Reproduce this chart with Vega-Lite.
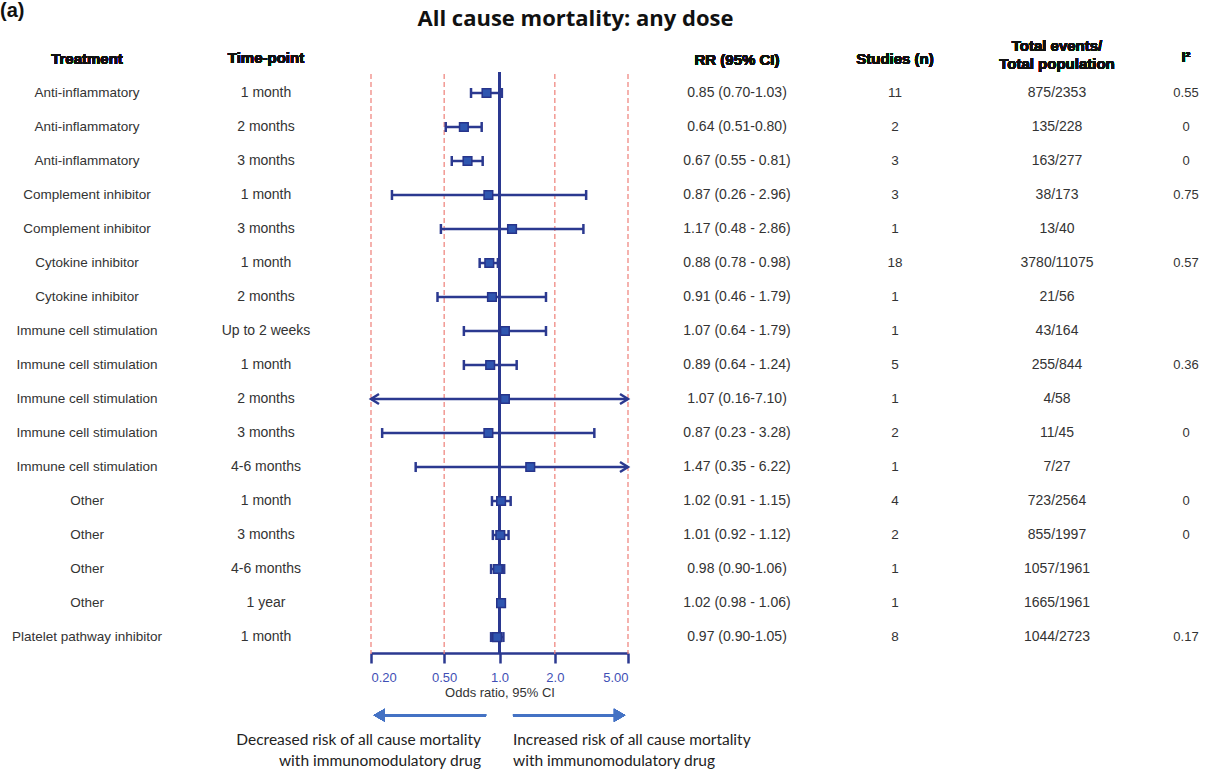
{
  "$schema": "https://vega.github.io/schema/vega-lite/v6.json",
  "padding": {"top": 0, "left": 0, "right": 0, "bottom": 0},
  "background": "white",
  "bounds": "flush",
  "spacing": 0,
  "config": {
    "view": {"stroke": null},
    "text": {"font": "Liberation Sans", "fontSize": 13, "color": "#333333"}
  },
  "datasets": {
    "rows": [
      {"row": 0, "treatment": "Anti-inflammatory", "time": "1 month", "rr": 0.85, "lo": 0.70, "hi": 1.03, "label": "0.85 (0.70-1.03)", "studies": "11", "events": "875/2353", "i2": "0.55"},
      {"row": 1, "treatment": "Anti-inflammatory", "time": "2 months", "rr": 0.64, "lo": 0.51, "hi": 0.80, "label": "0.64 (0.51-0.80)", "studies": "2", "events": "135/228", "i2": "0"},
      {"row": 2, "treatment": "Anti-inflammatory", "time": "3 months", "rr": 0.67, "lo": 0.55, "hi": 0.81, "label": "0.67 (0.55 - 0.81)", "studies": "3", "events": "163/277", "i2": "0"},
      {"row": 3, "treatment": "Complement inhibitor", "time": "1 month", "rr": 0.87, "lo": 0.26, "hi": 2.96, "label": "0.87 (0.26 - 2.96)", "studies": "3", "events": "38/173", "i2": "0.75"},
      {"row": 4, "treatment": "Complement inhibitor", "time": "3 months", "rr": 1.17, "lo": 0.48, "hi": 2.86, "label": "1.17 (0.48 - 2.86)", "studies": "1", "events": "13/40", "i2": ""},
      {"row": 5, "treatment": "Cytokine inhibitor", "time": "1 month", "rr": 0.88, "lo": 0.78, "hi": 0.98, "label": "0.88 (0.78 - 0.98)", "studies": "18", "events": "3780/11075", "i2": "0.57"},
      {"row": 6, "treatment": "Cytokine inhibitor", "time": "2 months", "rr": 0.91, "lo": 0.46, "hi": 1.79, "label": "0.91 (0.46 - 1.79)", "studies": "1", "events": "21/56", "i2": ""},
      {"row": 7, "treatment": "Immune cell stimulation", "time": "Up to 2 weeks", "rr": 1.07, "lo": 0.64, "hi": 1.79, "label": "1.07 (0.64 - 1.79)", "studies": "1", "events": "43/164", "i2": ""},
      {"row": 8, "treatment": "Immune cell stimulation", "time": "1 month", "rr": 0.89, "lo": 0.64, "hi": 1.24, "label": "0.89 (0.64 - 1.24)", "studies": "5", "events": "255/844", "i2": "0.36"},
      {"row": 9, "treatment": "Immune cell stimulation", "time": "2 months", "rr": 1.07, "lo": 0.16, "hi": 7.10, "label": "1.07 (0.16-7.10)", "studies": "1", "events": "4/58", "i2": ""},
      {"row": 10, "treatment": "Immune cell stimulation", "time": "3 months", "rr": 0.87, "lo": 0.23, "hi": 3.28, "label": "0.87 (0.23 - 3.28)", "studies": "2", "events": "11/45", "i2": "0"},
      {"row": 11, "treatment": "Immune cell stimulation", "time": "4-6 months", "rr": 1.47, "lo": 0.35, "hi": 6.22, "label": "1.47 (0.35 - 6.22)", "studies": "1", "events": "7/27", "i2": ""},
      {"row": 12, "treatment": "Other", "time": "1 month", "rr": 1.02, "lo": 0.91, "hi": 1.15, "label": "1.02 (0.91 - 1.15)", "studies": "4", "events": "723/2564", "i2": "0"},
      {"row": 13, "treatment": "Other", "time": "3 months", "rr": 1.01, "lo": 0.92, "hi": 1.12, "label": "1.01 (0.92 - 1.12)", "studies": "2", "events": "855/1997", "i2": "0"},
      {"row": 14, "treatment": "Other", "time": "4-6 months", "rr": 0.98, "lo": 0.90, "hi": 1.06, "label": "0.98 (0.90-1.06)", "studies": "1", "events": "1057/1961", "i2": ""},
      {"row": 15, "treatment": "Other", "time": "1 year", "rr": 1.02, "lo": 0.98, "hi": 1.06, "label": "1.02 (0.98 - 1.06)", "studies": "1", "events": "1665/1961", "i2": ""},
      {"row": 16, "treatment": "Platelet pathway inhibitor", "time": "1 month", "rr": 0.97, "lo": 0.90, "hi": 1.05, "label": "0.97 (0.90-1.05)", "studies": "8", "events": "1044/2723", "i2": "0.17"}
    ],
    "refs": [{"ref": 0.2}, {"ref": 0.5}, {"ref": 2}, {"ref": 5}]
  },
  "hconcat": [
    {
      "width": 174, "height": 694,
      "title": {"text": "(a)", "anchor": "start", "frame": "group", "offset": 31, "fontSize": 20, "font": "Liberation Sans", "fontWeight": "bold", "color": "#111111"},
      "data": {"name": "rows"},
      "layer": [
        {"mark": {"type": "text", "fontSize": 13.5}, "encoding": {"y": {"field": "row", "type": "quantitative", "axis": null, "scale": {"domain": [-0.5, 19.91], "reverse": true, "nice": false, "zero": false}}, "text": {"field": "treatment"}}},
        {"mark": {"type": "text", "fontWeight": "bold", "fontSize": 15, "color": "#111111"}, "encoding": {"y": {"datum": -1, "type": "quantitative"}, "text": {"value": "Treatment"}}}
      ]
    },
    {
      "width": 197, "height": 694,
      "data": {"name": "rows"},
      "layer": [
        {"mark": {"type": "text", "dx": -6.5, "fontSize": 14}, "encoding": {"y": {"field": "row", "type": "quantitative", "axis": null, "scale": {"domain": [-0.5, 19.91], "reverse": true, "nice": false, "zero": false}}, "text": {"field": "time"}}},
        {"mark": {"type": "text", "dx": -6.5, "fontWeight": "bold", "fontSize": 15, "color": "#111111"}, "encoding": {"y": {"datum": -1.03, "type": "quantitative"}, "text": {"value": "Time-point"}}}
      ]
    },
    {
      "width": 257, "height": 694,
      "title": {"text": "All cause mortality: any dose", "anchor": "middle", "frame": "group", "dx": 76, "offset": 40, "fontSize": 22, "font": "Open Sans", "fontWeight": "bold", "color": "#111111"},
      "layer": [
        {
          "data": {"name": "refs"},
          "mark": {"type": "rule", "color": "#EE7F78", "strokeWidth": 1.2, "strokeDash": [5, 3]},
          "encoding": {
            "x": {"field": "ref", "type": "quantitative", "title": "Odds ratio, 95% CI",
              "scale": {"type": "log", "domain": [0.2, 5], "nice": false, "clamp": true},
              "axis": {"values": [0.2, 0.5, 1, 2, 5], "grid": false, "offset": -117, "domainColor": "#2B3990", "domainWidth": 2.5, "tickColor": "#2B3990", "tickWidth": 2.5, "tickSize": 10, "labelColor": "#3F4FB5", "labelFont": "Liberation Sans", "labelFontSize": 13, "labelPadding": 8, "labelExpr": "datum.value == 0.2 ? '0.20' : datum.value == 0.5 ? '0.50' : datum.value == 1 ? '1.0' : datum.value == 2 ? '2.0' : '5.00'", "titleFont": "Liberation Sans", "titleFontSize": 13, "titleFontWeight": "normal", "titleColor": "#333333", "titlePadding": 2}},
            "y": {"datum": -0.56, "type": "quantitative", "axis": null, "scale": {"domain": [-0.5, 19.91], "reverse": true, "nice": false, "zero": false}},
            "y2": {"datum": 16.5}
          }
        },
        {
          "data": {"name": "rows"},
          "mark": {"type": "rule", "color": "#2B3990", "strokeWidth": 2.5},
          "encoding": {
            "x": {"datum": 1, "type": "quantitative", "title": "Odds ratio, 95% CI"},
            "y": {"datum": -0.62, "type": "quantitative"},
            "y2": {"datum": 16.5}
          }
        },
        {
          "data": {"name": "rows"},
          "mark": {"type": "rule", "color": "#2B3990", "strokeWidth": 2.5},
          "encoding": {
            "x": {"field": "lo", "type": "quantitative", "title": "Odds ratio, 95% CI"},
            "x2": {"field": "hi"},
            "y": {"field": "row", "type": "quantitative"}
          }
        },
        {
          "data": {"name": "rows"},
          "transform": [{"filter": "datum.lo >= 0.2"}],
          "mark": {"type": "point", "shape": "M0,-1L0,1", "size": 100, "filled": false, "stroke": "#2B3990", "strokeWidth": 2.5, "opacity": 1},
          "encoding": {
            "x": {"field": "lo", "type": "quantitative", "title": "Odds ratio, 95% CI"},
            "y": {"field": "row", "type": "quantitative"}
          }
        },
        {
          "data": {"name": "rows"},
          "transform": [{"filter": "datum.hi <= 5"}],
          "mark": {"type": "point", "shape": "M0,-1L0,1", "size": 100, "filled": false, "stroke": "#2B3990", "strokeWidth": 2.5, "opacity": 1},
          "encoding": {
            "x": {"field": "hi", "type": "quantitative", "title": "Odds ratio, 95% CI"},
            "y": {"field": "row", "type": "quantitative"}
          }
        },
        {
          "data": {"name": "rows"},
          "transform": [{"filter": "datum.lo < 0.2"}],
          "mark": {"type": "point", "shape": "M1.6,-1L0,0L1.6,1", "size": 100, "filled": false, "stroke": "#2B3990", "strokeWidth": 2.5, "opacity": 1},
          "encoding": {
            "x": {"field": "lo", "type": "quantitative", "title": "Odds ratio, 95% CI"},
            "y": {"field": "row", "type": "quantitative"}
          }
        },
        {
          "data": {"name": "rows"},
          "transform": [{"filter": "datum.hi > 5"}],
          "mark": {"type": "point", "shape": "M-1.6,-1L0,0L-1.6,1", "size": 100, "filled": false, "stroke": "#2B3990", "strokeWidth": 2.5, "opacity": 1},
          "encoding": {
            "x": {"field": "hi", "type": "quantitative", "title": "Odds ratio, 95% CI"},
            "y": {"field": "row", "type": "quantitative"}
          }
        },
        {
          "data": {"name": "rows"},
          "mark": {"type": "point", "shape": "square", "size": 75, "filled": true, "fill": "#2F56B0", "stroke": "#27348B", "strokeWidth": 1.5, "opacity": 1},
          "encoding": {
            "x": {"field": "rr", "type": "quantitative", "title": "Odds ratio, 95% CI"},
            "y": {"field": "row", "type": "quantitative"}
          }
        },
        {
          "data": {"name": "rows"},
          "mark": {"type": "rule", "color": "#4472C4", "strokeWidth": 2.5},
          "encoding": {
            "x": {"datum": 0.845, "type": "quantitative", "title": "Odds ratio, 95% CI"},
            "x2": {"datum": 0.23},
            "y": {"datum": 18.3, "type": "quantitative"}
          }
        },
        {
          "data": {"name": "rows"},
          "mark": {"type": "rule", "color": "#4472C4", "strokeWidth": 2.5},
          "encoding": {
            "x": {"datum": 1.184, "type": "quantitative", "title": "Odds ratio, 95% CI"},
            "x2": {"datum": 4.4},
            "y": {"datum": 18.3, "type": "quantitative"}
          }
        },
        {
          "data": {"name": "rows"},
          "mark": {"type": "point", "shape": "triangle-left", "size": 170, "filled": true, "color": "#4472C4", "opacity": 1},
          "encoding": {
            "x": {"datum": 0.222, "type": "quantitative", "title": "Odds ratio, 95% CI"},
            "y": {"datum": 18.3, "type": "quantitative"}
          }
        },
        {
          "data": {"name": "rows"},
          "mark": {"type": "point", "shape": "triangle-right", "size": 170, "filled": true, "color": "#4472C4", "opacity": 1},
          "encoding": {
            "x": {"datum": 4.5, "type": "quantitative", "title": "Odds ratio, 95% CI"},
            "y": {"datum": 18.3, "type": "quantitative"}
          }
        },
        {
          "data": {"values": [{}]},
          "mark": {"type": "text", "align": "right", "baseline": "middle", "font": "Lato", "fontSize": 15.5, "lineHeight": 20.5, "color": "#222222"},
          "encoding": {
            "x": {"datum": 0.793, "type": "quantitative", "title": "Odds ratio, 95% CI"},
            "y": {"datum": 19.03, "type": "quantitative"},
            "text": {"value": ["Decreased risk of all cause mortality", "with immunomodulatory drug"]}
          }
        },
        {
          "data": {"values": [{}]},
          "mark": {"type": "text", "align": "left", "baseline": "middle", "font": "Lato", "fontSize": 15.5, "lineHeight": 20.5, "color": "#222222"},
          "encoding": {
            "x": {"datum": 1.184, "type": "quantitative", "title": "Odds ratio, 95% CI"},
            "y": {"datum": 19.03, "type": "quantitative"},
            "text": {"value": ["Increased risk of all cause mortality", "with immunomodulatory drug"]}
          }
        }
      ]
    },
    {
      "width": 218, "height": 694,
      "data": {"name": "rows"},
      "layer": [
        {"mark": {"type": "text", "fontSize": 14}, "encoding": {"y": {"field": "row", "type": "quantitative", "axis": null, "scale": {"domain": [-0.5, 19.91], "reverse": true, "nice": false, "zero": false}}, "text": {"field": "label"}}},
        {"mark": {"type": "text", "fontWeight": "bold", "fontSize": 15, "color": "#111111"}, "encoding": {"y": {"datum": -0.97, "type": "quantitative"}, "text": {"value": "RR (95% CI)"}}}
      ]
    },
    {
      "width": 98, "height": 694,
      "data": {"name": "rows"},
      "layer": [
        {"mark": {"type": "text", "fontSize": 13.5}, "encoding": {"y": {"field": "row", "type": "quantitative", "axis": null, "scale": {"domain": [-0.5, 19.91], "reverse": true, "nice": false, "zero": false}}, "text": {"field": "studies"}}},
        {"mark": {"type": "text", "fontWeight": "bold", "fontSize": 15, "color": "#111111"}, "encoding": {"y": {"datum": -1, "type": "quantitative"}, "text": {"value": "Studies (n)"}}}
      ]
    },
    {
      "width": 226, "height": 694,
      "data": {"name": "rows"},
      "layer": [
        {"mark": {"type": "text", "fontSize": 14}, "encoding": {"y": {"field": "row", "type": "quantitative", "axis": null, "scale": {"domain": [-0.5, 19.91], "reverse": true, "nice": false, "zero": false}}, "text": {"field": "events"}}},
        {"mark": {"type": "text", "fontWeight": "bold", "fontSize": 15, "lineHeight": 18, "color": "#111111"}, "encoding": {"y": {"datum": -1.38, "type": "quantitative"}, "text": {"value": ["Total events/", "Total population"]}}}
      ]
    },
    {
      "width": 32, "height": 694,
      "data": {"name": "rows"},
      "layer": [
        {"mark": {"type": "text", "fontSize": 13}, "encoding": {"y": {"field": "row", "type": "quantitative", "axis": null, "scale": {"domain": [-0.5, 19.91], "reverse": true, "nice": false, "zero": false}}, "text": {"field": "i2"}}},
        {"mark": {"type": "text", "fontWeight": "bold", "fontSize": 15, "color": "#111111"}, "encoding": {"y": {"datum": -1.05, "type": "quantitative"}, "text": {"value": "I²"}}}
      ]
    }
  ]
}
